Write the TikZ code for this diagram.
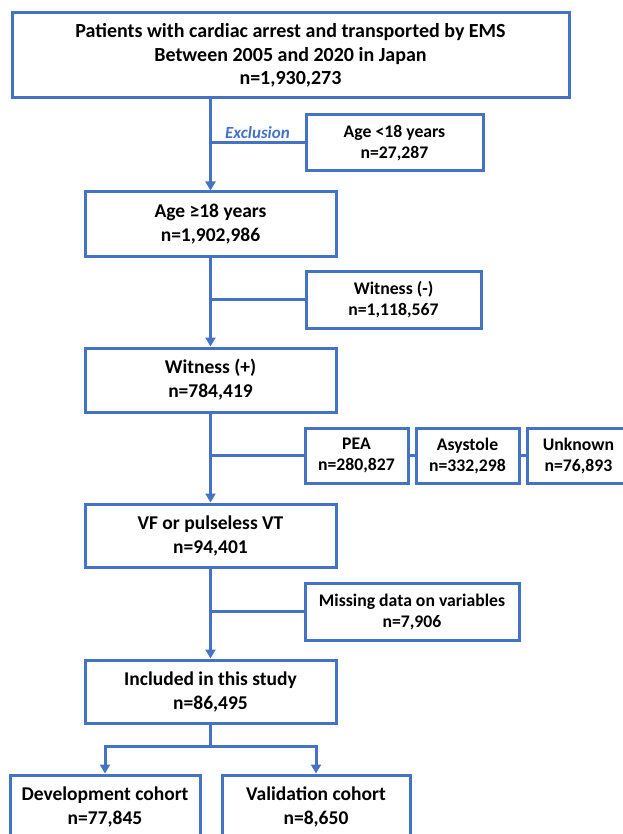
\documentclass[tikz,border=0pt]{standalone}
\usepackage{fontspec}
\setmainfont{Carlito}
\usepackage{tikz}
\usetikzlibrary{arrows.meta}
\definecolor{boxblue}{HTML}{4472C4}

\begin{document}
\begin{tikzpicture}
  [x=1pt,y=-1pt,font=\bfseries\fontsize{19.5}{24}\selectfont,
   every node/.style={draw=boxblue,line width=3pt,align=center,inner sep=0pt},
   side/.style={font=\bfseries\fontsize{17.7}{21}\selectfont},
   link/.style={draw=boxblue,line width=3pt},
   arrow/.style={link,-{Triangle[width=10pt,length=9pt]}}]
  \useasboundingbox (0,0) rectangle (622,834);

  \node[minimum width=557,minimum height=85,font=\bfseries\fontsize{20}{23.5}\selectfont] (all) at (290.5,55.5)
    {Patients with cardiac arrest and transported by EMS\\Between 2005 and 2020 in Japan\\n=1,930,273};
  \node[side,minimum width=177,minimum height=56] (young) at (394.5,143) {Age <18 years\\n=27,287};
  \node[minimum width=251,minimum height=64] (adult) at (210.5,224) {Age ≥18 years\\n=1,902,986};
  \node[side,minimum width=175,minimum height=57] (nowit) at (393.5,299.5) {Witness (-)\\n=1,118,567};
  \node[minimum width=251,minimum height=64] (wit) at (210.5,380) {Witness (+)\\n=784,419};
  \node[side,minimum width=103,minimum height=55] (pea) at (356.5,455.5) {PEA\\n=280,827};
  \node[side,minimum width=103,minimum height=55] (asys) at (467.5,455.5) {Asystole\\n=332,298};
  \node[side,minimum width=103,minimum height=55] (unk) at (578.5,455.5) {Unknown\\n=76,893};
  \node[minimum width=251,minimum height=63] (vf) at (210.5,535.5) {VF or pulseless VT\\n=94,401};
  \node[side,minimum width=214,minimum height=57] (miss) at (412,611.5) {Missing data on variables\\n=7,906};
  \node[minimum width=251,minimum height=63] (incl) at (210.5,691.5) {Included in this study\\n=86,495};
  \node[minimum width=190,minimum height=64] (dev) at (105,807) {Development cohort\\n=77,845};
  \node[minimum width=188,minimum height=64] (val) at (316,807) {Validation cohort\\n=8,650};

  \draw[arrow] (all.south -| adult.north) -- (adult.north);
  \foreach \from/\to in {adult/wit,wit/vf,vf/incl}
    \draw[arrow] (\from) -- (\to);

  \draw[link] (young.west) -- (young.west -| adult.center)
    node[midway,above,draw=none,inner sep=3pt,text=boxblue,font=\bfseries\itshape\fontsize{17}{20}\selectfont] (excl) {Exclusion};
  \draw[link] (nowit.west) -- (nowit.west -| adult.center);
  \draw[link] (pea.west) -- (pea.west -| wit.center);
  \draw[link] (pea.east) -- (asys.west);
  \draw[link] (asys.east) -- (unk.west);
  \draw[link] (miss.west) -- (miss.west -| vf.center);

  \draw[link] (incl.south) -- ++(0,22) coordinate (split);
  \draw[arrow] (split) -| (dev.north);
  \draw[arrow] (split) -| (val.north);
\end{tikzpicture}
\end{document}
